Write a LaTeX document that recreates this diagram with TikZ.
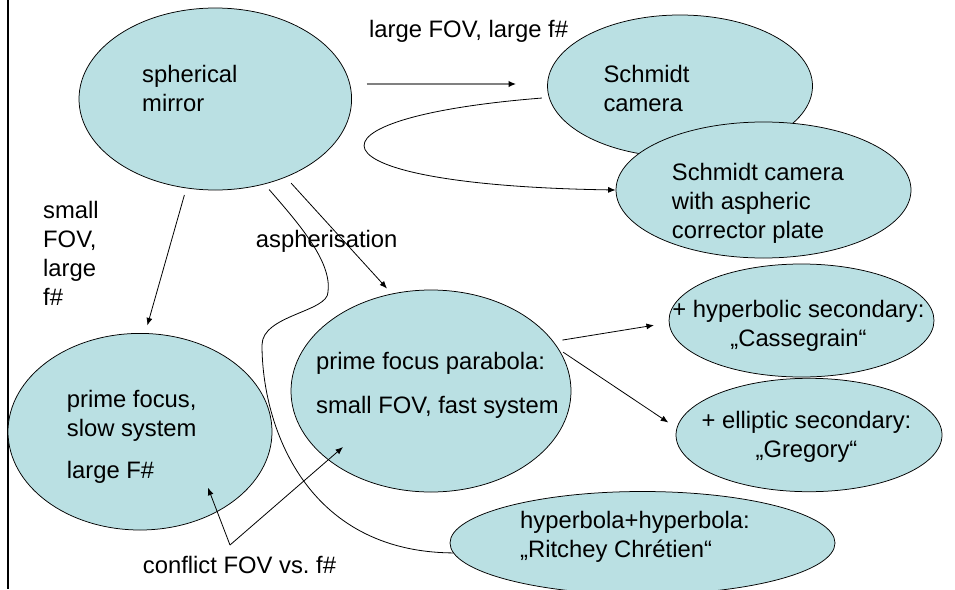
\documentclass[tikz,border=0pt]{standalone}
\usepackage{fontspec}
\setmainfont{Liberation Sans}
\usetikzlibrary{shapes.geometric,arrows.meta}
\definecolor{lensblue}{RGB}{186,224,227}
\frenchspacing

\tikzset{
  blob/.style={ellipse, draw=black, fill=lensblue, line width=0.75pt, inner sep=0pt},
  txt/.style={inner sep=0pt, font=\fontsize{23.8}{29}\selectfont},
  arr/.style={draw=black, line width=0.8pt, -{Latex[length=7.5pt,width=6pt]}},
  graylink/.style={draw={rgb,255:red,128;green,128;blue,128}, line width=1.6pt, -{Latex[length=7.5pt,width=6.5pt,color=black]}},
  link/.style={draw=black, line width=0.8pt},
}

\begin{document}
\begin{tikzpicture}[x=1pt,y=1pt,yscale=-1]
\useasboundingbox (0,0) rectangle (955,589);

%Straight Lines: left rule
\draw [line width=2.8pt] (8,0) -- (8,589) ;

%Shape: Ellipse
\node [blob, minimum width=272.6pt, minimum height=182pt] (sph) at (215.3,99) {};
%Shape: Ellipse
\node [blob, minimum width=265pt, minimum height=142pt] (sch) at (680,86) {};
%Shape: Ellipse
\node [blob, minimum width=295pt, minimum height=136pt] (cor) at (763.5,190) {};
%Shape: Ellipse
\node [blob, minimum width=264pt, minimum height=196.6pt] (slow) at (140,431.7) {};
%Shape: Ellipse
\node [blob, minimum width=280pt, minimum height=202pt] (para) at (431,391) {};
%Shape: Ellipse
\node [blob, minimum width=265pt, minimum height=113pt] (cas) at (801.5,320.5) {};
%Shape: Ellipse
\node [blob, minimum width=266pt, minimum height=113.4pt] (gre) at (809,435) {};
%Shape: Ellipse
\node [blob, minimum width=385pt, minimum height=103pt] (rit) at (642.5,543) {};

% Text Node
\node [txt, anchor=north west, align=left] (sphtxt) at (142,65) {spherical\\mirror};
% Text Node
\node [txt, anchor=north west, align=left] (schtxt) at (603.3,65) {Schmidt\\camera};
% Text Node
\node [txt, anchor=north west, align=left] (cortxt) at (671.7,163) {Schmidt camera\\with aspheric\\corrector plate};
% Text Node
\node [txt, anchor=north west, align=left] (slowtxt) at (66.7,389.7) {prime focus,\\slow system\\[13.6pt]large F\#};
% Text Node
\node [txt, anchor=north west, align=left] (paratxt) at (316,352) {prime focus parabola:\\[14.7pt]small FOV, fast system};
% Text Node
\node [txt, anchor=north, align=center] (castxt) at (798.5,300) {+ hyperbolic secondary:\\„Cassegrain“};
% Text Node
\node [txt, anchor=north, align=center] (gretxt) at (806.5,411) {+ elliptic secondary:\\„Gregory“};
% Text Node
\node [txt, anchor=north west, align=left] (rittxt) at (520,511) {hyperbola+hyperbola:\\„Ritchey Chrétien“};

% Text Node
\node [txt, anchor=north west] (fovtxt) at (369,20) {large FOV, large f\#};
% Text Node
\node [txt, anchor=north west, align=left] (smalltxt) at (43,201) {small\\FOV,\\large\\f\#};
% Text Node
\node [txt, anchor=north west] (asphtxt) at (255.7,230) {aspherisation};
% Text Node
\node [txt, anchor=north west] (conftxt) at (142.7,556.3) {conflict FOV vs. f\#};

%Straight Lines
\draw [graylink] ([shift={(14.7,-15)}]sph.east) -- ([shift={(-31,-2)}]sch.west) ;
%Curve Lines
\draw [arr, shorten <=7pt] (sch.185) .. controls (290,118) and (300,185) .. (cor.west) ;
%Straight Lines
\draw [arr, shorten <=7pt, shorten >=8pt] (sph.252) -- (slow.87) ;
%Straight Lines
\draw [arr, shorten <=8pt, shorten >=7pt] (sph.312) -- (para.112) ;
%Curve Lines
\draw [link, shorten <=7pt] (sph.300) .. controls (300,225) and (332,262) .. (328,292)
  .. controls (328,312) and (262,315) .. (262,345)
  .. controls (262,425) and (305,552) .. (rit.183) ;

%Straight Lines
\coordinate (fork) at (230,545);
\draw [arr] (fork) -- ([shift={(68,56)}]slow.center) ;
\draw [arr] (fork) -- ([shift={(-88,56)}]para.center) ;

%Straight Lines
\draw [arr, shorten <=9pt, shorten >=15pt] (para.22) -- (cas.181) ;
%Straight Lines
\draw [arr, shorten <=5pt, shorten >=10pt] (para.18) -- (gre.177) ;

\end{tikzpicture}
\end{document}
